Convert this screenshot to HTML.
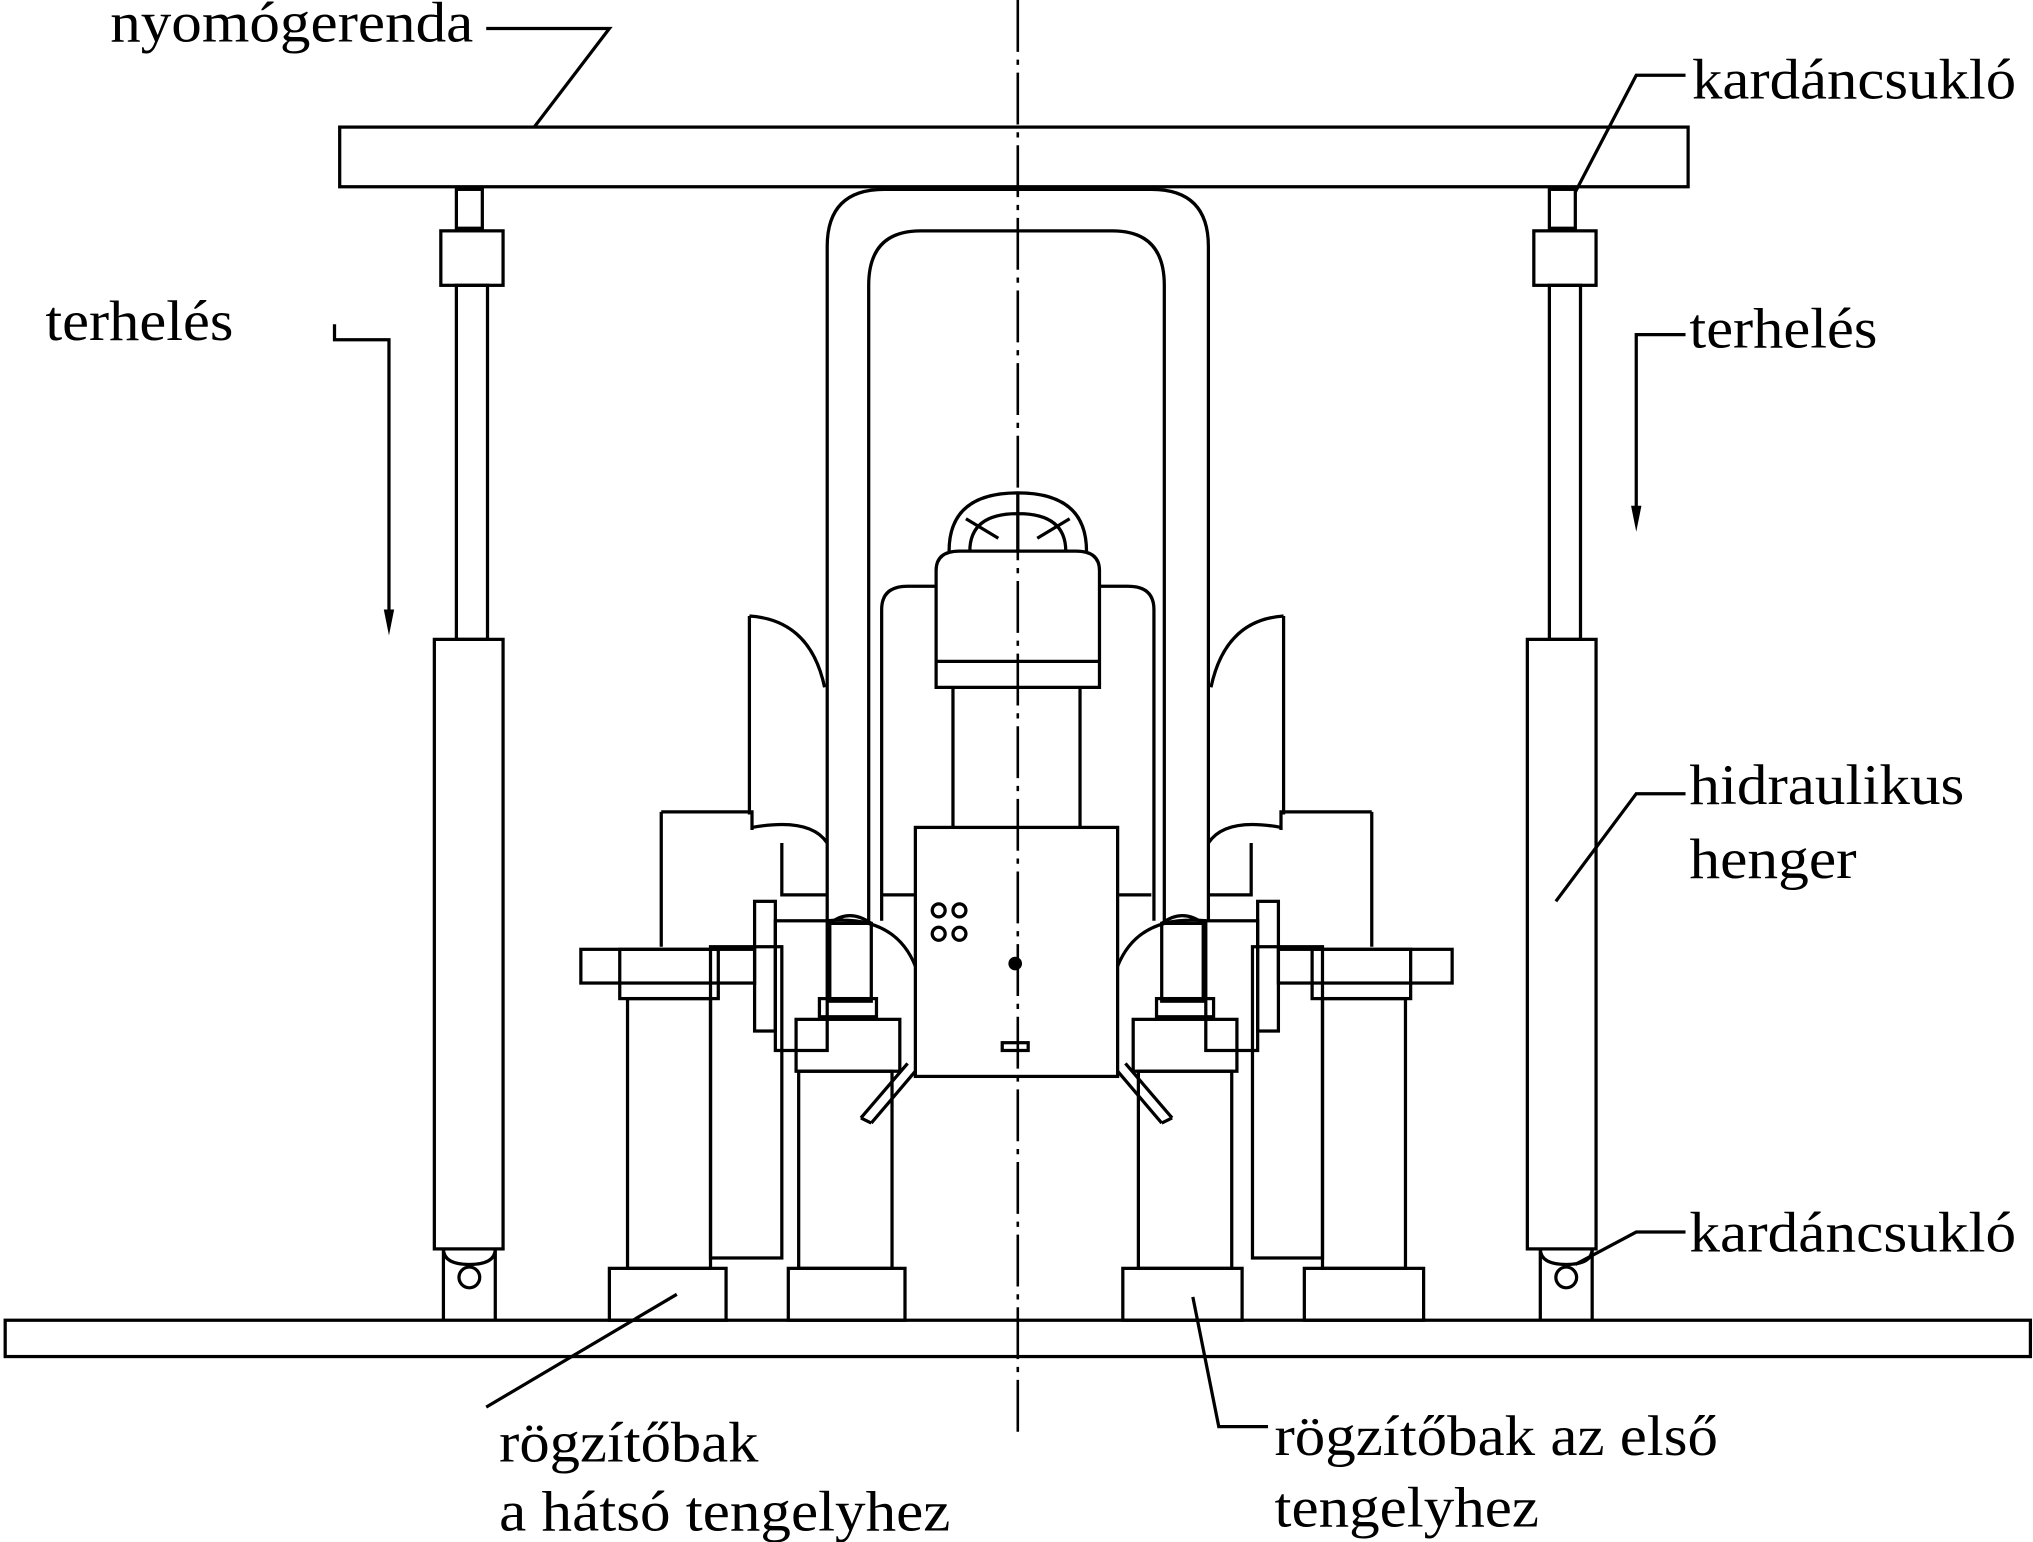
<!DOCTYPE html>
<html><head><meta charset="utf-8"><style>
html,body{margin:0;padding:0;background:#fff;}
svg{display:block;}
text{font-family:"Liberation Serif",serif;font-size:44px;fill:#000;}
</style></head><body>
<svg width="2033" height="1542" viewBox="0 0 1568 1189" preserveAspectRatio="none" xmlns="http://www.w3.org/2000/svg">
<g fill="none" stroke="#000" stroke-width="2.5">
<rect x="262" y="98" width="1040" height="46"/>
<rect x="4" y="1018" width="1562" height="28"/>
<rect x="352" y="146" width="20" height="30"/>
<rect x="340" y="178" width="48" height="42"/>
<rect x="352" y="220" width="24" height="273"/>
<rect x="335" y="493" width="53" height="470"/>
<path d="M342 963 V1018 M382 963 V1018 M342 963 Q342 975 362 975 Q382 975 382 963"/>
<circle cx="362" cy="985" r="8"/>
<rect x="1195" y="146" width="20" height="30"/>
<rect x="1183" y="178" width="48" height="42"/>
<rect x="1195" y="220" width="24" height="273"/>
<rect x="1178" y="493" width="53" height="470"/>
<path d="M1188 963 V1018 M1228 963 V1018 M1188 963 Q1188 975 1208 975 Q1228 975 1228 963"/>
<circle cx="1208" cy="985" r="8"/>
<path d="M638 710 V190 Q638 146 682 146 H888 Q932 146 932 190 V710"/>
<path d="M670 710 V220 Q670 178 710 178 H858 Q898 178 898 220 V710"/>
<path d="M732 425 Q732 380 785 380 Q838 380 838 425 M748 425 Q748 396 785 396 Q822 396 822 425 M785 380 V425 M745 400 L770 415 M825 400 L800 415"/>
<path d="M722 440 Q722 425 740 425 H830 Q848 425 848 440 V530 H722 Z M722 510 H848"/>
<path d="M735 530 V638 M833 530 V638"/>
<path d="M680 710 V470 Q680 452 700 452 H722 M848 452 H870 Q890 452 890 470 V710"/>
<path d="M578 475 V628 M578 475 Q625 478 636 530"/>
<path d="M990 475 V628 M990 475 Q945 478 934 530"/>
<path d="M510 626 H580 V640 M510 626 V730"/>
<path d="M1058 626 H988 V640 M1058 626 V730"/>
<path d="M580 638 Q625 630 638 650 M988 638 Q945 630 932 650"/>
<path d="M603 650 V690 H638 M965 650 V690 H932"/>
<rect x="706" y="638" width="156" height="192"/>
<circle cx="724" cy="702" r="5"/><circle cx="740" cy="702" r="5"/>
<circle cx="724" cy="720" r="5"/><circle cx="740" cy="720" r="5"/>
<circle cx="783" cy="743" r="4" fill="#000"/>
<rect x="773" y="804" width="20" height="6"/>
<path d="M680 690 H706 M862 690 H888"/>
<rect x="582" y="695" width="16" height="100"/>
<rect x="598" y="710" width="40" height="100"/>
<rect x="640" y="712" width="32" height="60"/>
<rect x="632" y="770" width="44" height="14"/>
<path d="M640 712 Q655 700 672 712"/>
<rect x="614" y="786" width="80" height="40"/>
<path d="M664 862 L700 820 M672 866 L706 826 M664 862 L672 866"/>
<path d="M638 710 Q690 705 706 745"/>
<rect x="970" y="695" width="16" height="100"/>
<rect x="930" y="710" width="40" height="100"/>
<rect x="896" y="712" width="32" height="60"/>
<rect x="892" y="770" width="44" height="14"/>
<path d="M896 712 Q912 700 928 712"/>
<rect x="874" y="786" width="80" height="40"/>
<path d="M904 862 L868 820 M896 866 L862 826 M904 862 L896 866"/>
<path d="M930 710 Q878 705 862 745"/>
<rect x="448" y="732" width="134" height="26"/>
<rect x="478" y="732" width="76" height="38"/>
<rect x="484" y="770" width="64" height="208"/>
<rect x="470" y="978" width="90" height="40"/>
<rect x="548" y="730" width="55" height="240"/>
<rect x="616" y="826" width="72" height="152"/>
<rect x="608" y="978" width="90" height="40"/>
<rect x="986" y="732" width="134" height="26"/>
<rect x="1012" y="732" width="76" height="38"/>
<rect x="1020" y="770" width="64" height="208"/>
<rect x="1006" y="978" width="92" height="40"/>
<rect x="966" y="730" width="54" height="240"/>
<rect x="878" y="826" width="72" height="152"/>
<rect x="866" y="978" width="92" height="40"/>
<path d="M375 22 H470 L412 98"/>
<path d="M1300 58 H1262 L1215 148"/>
<path d="M258 250 V262 H300 V480"/>
<path d="M1300 258 H1262 V400"/>
<path d="M1300 612 H1262 L1200 695"/>
<path d="M1300 950 H1262 L1215 975"/>
<path d="M375 1085 L522 998"/>
<path d="M978 1100 H940 L920 1000"/>
</g>
<g fill="#000">
<path d="M296 470 L300 490 L304 470 Z"/>
<path d="M1258 390 L1262 410 L1266 390 Z"/>
</g>
<path d="M785 0 V1108" stroke="#000" stroke-width="2" stroke-dasharray="40 6 4 6" fill="none"/>
<text x="85" y="32" textLength="280" lengthAdjust="spacingAndGlyphs">nyomógerenda</text>
<text x="1305" y="76" textLength="250" lengthAdjust="spacingAndGlyphs">kardáncsukló</text>
<text x="35" y="262" textLength="145" lengthAdjust="spacingAndGlyphs">terhelés</text>
<text x="1303" y="268" textLength="145" lengthAdjust="spacingAndGlyphs">terhelés</text>
<text x="1303" y="620" textLength="212" lengthAdjust="spacingAndGlyphs">hidraulikus</text>
<text x="1303" y="677" textLength="129" lengthAdjust="spacingAndGlyphs">henger</text>
<text x="1303" y="965" textLength="252" lengthAdjust="spacingAndGlyphs">kardáncsukló</text>
<text x="385" y="1127" textLength="200" lengthAdjust="spacingAndGlyphs">rögzítőbak</text>
<text x="385" y="1180" textLength="348" lengthAdjust="spacingAndGlyphs">a hátsó tengelyhez</text>
<text x="983" y="1122" textLength="342" lengthAdjust="spacingAndGlyphs">rögzítőbak az első</text>
<text x="983" y="1177" textLength="204" lengthAdjust="spacingAndGlyphs">tengelyhez</text>
</svg>
</body></html>
